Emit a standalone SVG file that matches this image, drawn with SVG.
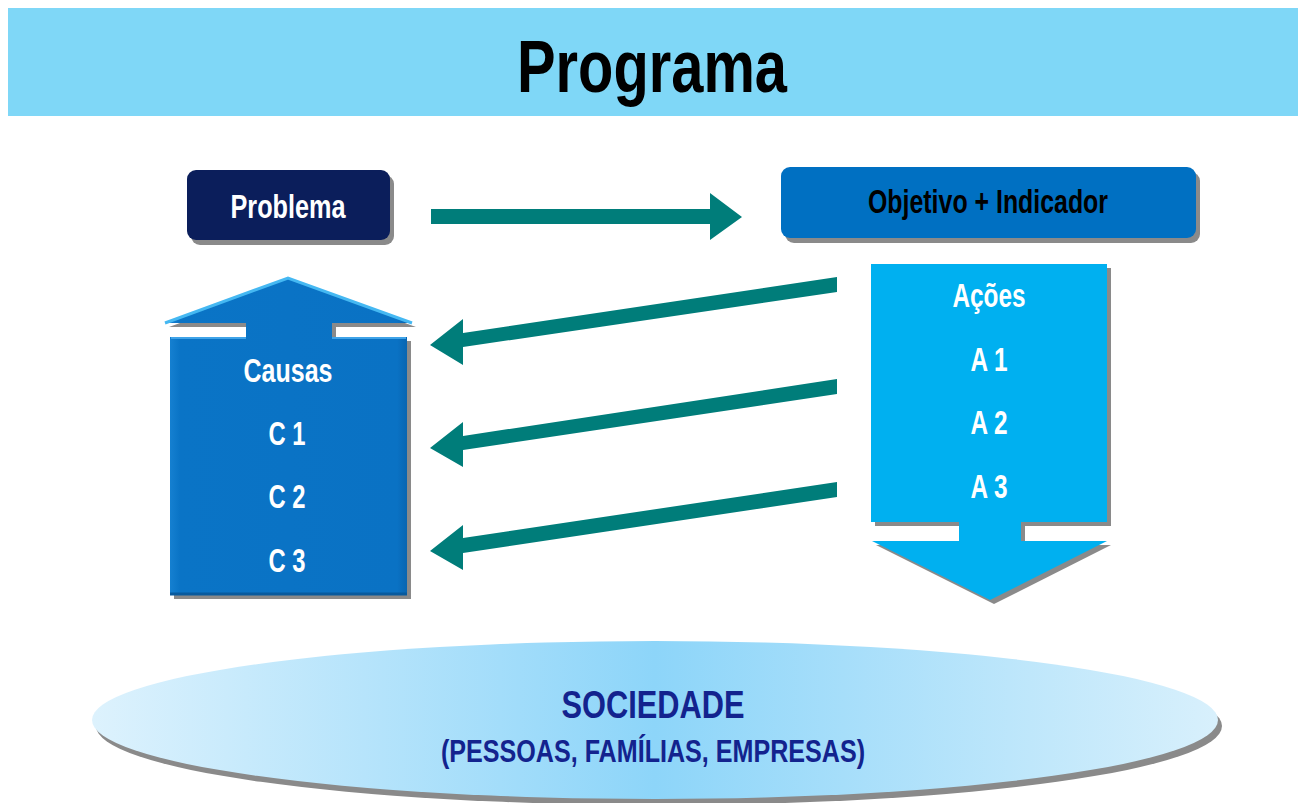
<svg xmlns="http://www.w3.org/2000/svg" width="1298" height="803" viewBox="0 0 1298 803">
<style>
.t{font-family:"Liberation Sans",Arial,sans-serif;font-weight:bold;text-anchor:middle}
.w{fill:#ffffff;font-size:33px}
.sh{fill:#8a8a8a}
.arr{fill:#007D7A}
</style>
<defs>
<linearGradient id="eg" x1="0" y1="0" x2="1" y2="0">
<stop offset="0" stop-color="#DDF2FD"/>
<stop offset="0.5" stop-color="#8DD5F9"/>
<stop offset="1" stop-color="#D8F0FC"/>
</linearGradient>
<linearGradient id="cg" x1="0" y1="0" x2="1" y2="0">
<stop offset="0" stop-color="#1B86D6"/>
<stop offset="0.06" stop-color="#0A74C6"/>
<stop offset="0.94" stop-color="#0A72C4"/>
<stop offset="1" stop-color="#085FA8"/>
</linearGradient>
</defs>
<rect width="1298" height="803" fill="#ffffff"/>
<g id="header">
<rect x="8" y="8" width="1290" height="108" fill="#7FD7F7"/>
<text class="t" x="652" y="92" font-size="74" fill="#000000" textLength="270" lengthAdjust="spacingAndGlyphs">Programa</text>
</g>
<g id="problema">
<rect class="sh" x="191" y="175" width="203" height="70" rx="9"/>
<rect x="187" y="170" width="203" height="70" rx="9" fill="#0B1E5B"/>
<text class="t w" x="288" y="218" textLength="115" lengthAdjust="spacingAndGlyphs">Problema</text>
</g>
<g id="objetivo">
<rect class="sh" x="785" y="172" width="415" height="71" rx="9"/>
<rect x="781" y="167" width="415" height="71" rx="9" fill="#0070C2"/>
<text class="t" x="988" y="213" font-size="33" fill="#000000" textLength="240" lengthAdjust="spacingAndGlyphs">Objetivo + Indicador</text>
</g>
<g id="causas">
<path class="sh" d="M174,341 H250 V327 H169 L292,282 L416,327 H336 V341 H411 V599 H174 Z"/>
<path d="M170,337 H246 V323 H165 L288,278 L412,323 H332 V337 H407 V595 H170 Z" fill="url(#cg)"/>
<path d="M165,323 L288,278 L412,323" fill="none" stroke="#45B8F2" stroke-width="3"/>
<path d="M171,338 H246 M332,338 H406" fill="none" stroke="#3FA3E8" stroke-width="2"/>
<path d="M170,594 H407" fill="none" stroke="#075A9E" stroke-width="3"/>
<text class="t w" x="288" y="382" textLength="89" lengthAdjust="spacingAndGlyphs">Causas</text>
<text class="t w" x="287" y="445" textLength="37" lengthAdjust="spacingAndGlyphs">C 1</text>
<text class="t w" x="287" y="508" textLength="37" lengthAdjust="spacingAndGlyphs">C 2</text>
<text class="t w" x="287" y="572" textLength="37" lengthAdjust="spacingAndGlyphs">C 3</text>
</g>
<g id="acoes">
<path class="sh" d="M875,268 H1111 V526 H1025 V545 H1111 L994,604 L876,545 H963 V526 H875 Z"/>
<path d="M871,264 H1107 V522 H1021 V541 H1107 L990,600 L872,541 H959 V522 H871 Z" fill="#00B0F0"/>
<text class="t w" x="989" y="307" textLength="73" lengthAdjust="spacingAndGlyphs">Ações</text>
<text class="t w" x="989" y="371" textLength="37" lengthAdjust="spacingAndGlyphs">A 1</text>
<text class="t w" x="989" y="434" textLength="37" lengthAdjust="spacingAndGlyphs">A 2</text>
<text class="t w" x="989" y="498" textLength="37" lengthAdjust="spacingAndGlyphs">A 3</text>
</g>
<g id="sociedade">
<ellipse class="sh" cx="659" cy="726" rx="563" ry="79"/>
<ellipse cx="655" cy="720" rx="563" ry="79" fill="url(#eg)"/>
<text class="t" x="653" y="718" font-size="38" fill="#13238E" textLength="183" lengthAdjust="spacingAndGlyphs">SOCIEDADE</text>
<text class="t" x="653" y="762" font-size="31" fill="#13238E" textLength="424" lengthAdjust="spacingAndGlyphs">(PESSOAS, FAMÍLIAS, EMPRESAS)</text>
</g>
<g id="connectors">
<polygon class="arr" points="431,209 710,209 710,193 742,217 710,240 710,224 431,224"/>
<polygon class="arr" points="837,277 837,292 463,347 463,365 430,345 463,319 463,333"/>
<polygon class="arr" points="837,379 837,394 463,450 463,467 430,448 463,422 463,436"/>
<polygon class="arr" points="837,482 837,497 463,553 463,570 430,551 463,525 463,538"/>
</g>
</svg>
